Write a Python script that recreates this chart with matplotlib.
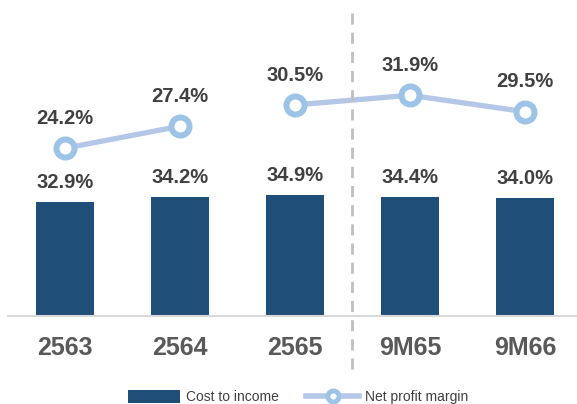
import matplotlib
matplotlib.use("Agg")
import matplotlib.pyplot as plt
from matplotlib.lines import Line2D
from matplotlib.patches import Patch
import numpy as np

plt.rcParams["font.family"] = ["Liberation Sans", "DejaVu Sans"]

categories = ["2563", "2564", "2565", "9M65", "9M66"]
cost_to_income = [32.9, 34.2, 34.9, 34.4, 34.0]
net_profit_margin = [24.2, 27.4, 30.5, 31.9, 29.5]
cost_labels = ["32.9%", "34.2%", "34.9%", "34.4%", "34.0%"]
npm_labels = ["24.2%", "27.4%", "30.5%", "31.9%", "29.5%"]

bar_color = "#1F4E79"
line_color = "#B4C7E7"
marker_edge = "#9DC3E6"
text_color = "#404040"

W, H = 577, 404
fig = plt.figure(figsize=(W / 100, H / 100), dpi=100)
ax_left = 7.5 / W
ax_bottom = 88 / H
ax_height = 306 / H
ax = fig.add_axes([ax_left, ax_bottom, 1 - ax_left, ax_height])
x = np.arange(len(categories))

ax.bar(x, cost_to_income, width=0.5, color=bar_color, zorder=2)
ax.set_xlim(-0.5, 4.45)
ax.set_ylim(0, 88.2)
for s in ["top", "right", "left"]:
    ax.spines[s].set_visible(False)
ax.spines["bottom"].set_color("#D9D9D9")
ax.spines["bottom"].set_linewidth(1.5)
ax.set_yticks([])
ax.set_xticks(x)
ax.set_xticklabels(categories, fontsize=18, fontweight="bold", color="#595959")
ax.tick_params(axis="x", length=0, pad=14.5)

for xi, v, lab in zip(x, cost_to_income, cost_labels):
    ax.annotate(lab, (xi, v), xytext=(0, 10), textcoords="offset points",
                ha="center", va="baseline", fontsize=14.5, fontweight="bold", color=text_color)

ax2 = ax.twinx()
ax2.set_ylim(-0.2, 44.3)
ax2.set_yticks([])
for s in ["top", "right", "left", "bottom"]:
    ax2.spines[s].set_visible(False)

segments = [(0, 2), (2, 5)]
for a, b in segments:
    ax2.plot(x[a:b], net_profit_margin[a:b], color=line_color, lw=3.8, zorder=3,
             marker="o", markersize=13, markerfacecolor="white",
             markeredgecolor=marker_edge, markeredgewidth=4.3, solid_capstyle="round")

for xi, v, lab in zip(x, net_profit_margin, npm_labels):
    ax2.annotate(lab, (xi, v), xytext=(0, 17.5), textcoords="offset points",
                 ha="center", va="baseline", fontsize=14.5, fontweight="bold", color=text_color)

# vertical dashed separator
fig.add_artist(Line2D([352 / W, 352 / W], [1 - 13 / H, 1 - 370 / H],
                      color="#BFBFBF", lw=2, ls=(0, (4, 2.9)), transform=fig.transFigure))

handles = [Patch(facecolor=bar_color, edgecolor="none"),
           Line2D([], [], color=line_color, lw=4, marker="o", markersize=8,
                  markerfacecolor="white", markeredgecolor=marker_edge, markeredgewidth=3.5)]
fig.legend(handles, ["Cost to income", "Net profit margin"], loc="center",
           bbox_to_anchor=(298 / W, 1 - 397.3 / H), ncol=2, frameon=False,
           fontsize=10, handlelength=3.8, handleheight=1.0, handletextpad=0.43,
           columnspacing=1.95, labelcolor="#404040", borderpad=0)

fig.savefig("out.png", dpi=100)
